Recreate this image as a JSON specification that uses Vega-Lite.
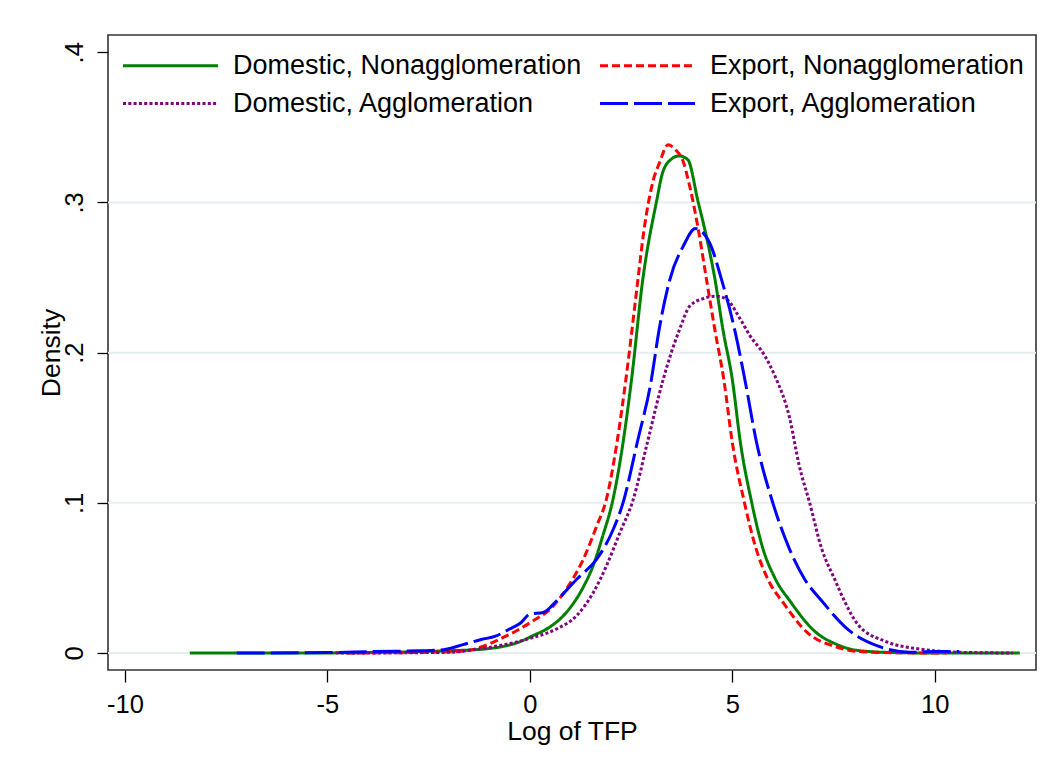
{
  "$schema": "https://vega.github.io/schema/vega-lite/v6.json",
  "width": 928,
  "height": 635,
  "autosize": "none",
  "padding": {"left": 108, "top": 35, "right": 15, "bottom": 101},
  "background": "white",
  "config": {
    "font": "Liberation Sans",
    "view": {"stroke": "#333333", "strokeWidth": 1.6},
    "axis": {"grid": false, "domain": false, "labelFont": "Liberation Sans", "titleFont": "Liberation Sans", "labelColor": "black", "titleColor": "black", "tickColor": "black", "tickWidth": 1.3, "titleFontWeight": "normal", "labelFontSize": 25.5, "titleFontSize": 26.5}
  },
  "datasets": {
    "grid": [{"g": 0}, {"g": 0.1}, {"g": 0.2}, {"g": 0.3}],
    "curves": [
      {"s": "Domestic, Nonagglomeration", "x": -8.4, "d": 0},
      {"s": "Domestic, Nonagglomeration", "x": -6, "d": 0},
      {"s": "Domestic, Nonagglomeration", "x": -4, "d": 0.0003},
      {"s": "Domestic, Nonagglomeration", "x": -3, "d": 0.0008},
      {"s": "Domestic, Nonagglomeration", "x": -2, "d": 0.0015},
      {"s": "Domestic, Nonagglomeration", "x": -1.5, "d": 0.002},
      {"s": "Domestic, Nonagglomeration", "x": -1, "d": 0.003},
      {"s": "Domestic, Nonagglomeration", "x": -0.74, "d": 0.004},
      {"s": "Domestic, Nonagglomeration", "x": -0.3, "d": 0.007},
      {"s": "Domestic, Nonagglomeration", "x": 0.07, "d": 0.0115},
      {"s": "Domestic, Nonagglomeration", "x": 0.49, "d": 0.0173},
      {"s": "Domestic, Nonagglomeration", "x": 0.9, "d": 0.027},
      {"s": "Domestic, Nonagglomeration", "x": 1.32, "d": 0.044},
      {"s": "Domestic, Nonagglomeration", "x": 1.56, "d": 0.058},
      {"s": "Domestic, Nonagglomeration", "x": 1.8, "d": 0.078},
      {"s": "Domestic, Nonagglomeration", "x": 2.05, "d": 0.102},
      {"s": "Domestic, Nonagglomeration", "x": 2.3, "d": 0.14},
      {"s": "Domestic, Nonagglomeration", "x": 2.51, "d": 0.182},
      {"s": "Domestic, Nonagglomeration", "x": 2.79, "d": 0.249},
      {"s": "Domestic, Nonagglomeration", "x": 3.13, "d": 0.301},
      {"s": "Domestic, Nonagglomeration", "x": 3.28, "d": 0.32},
      {"s": "Domestic, Nonagglomeration", "x": 3.5, "d": 0.329},
      {"s": "Domestic, Nonagglomeration", "x": 3.68, "d": 0.331},
      {"s": "Domestic, Nonagglomeration", "x": 3.9, "d": 0.3285},
      {"s": "Domestic, Nonagglomeration", "x": 4.15, "d": 0.301},
      {"s": "Domestic, Nonagglomeration", "x": 4.32, "d": 0.282},
      {"s": "Domestic, Nonagglomeration", "x": 4.57, "d": 0.249},
      {"s": "Domestic, Nonagglomeration", "x": 4.77, "d": 0.215},
      {"s": "Domestic, Nonagglomeration", "x": 5.0, "d": 0.182},
      {"s": "Domestic, Nonagglomeration", "x": 5.2, "d": 0.14},
      {"s": "Domestic, Nonagglomeration", "x": 5.48, "d": 0.1},
      {"s": "Domestic, Nonagglomeration", "x": 5.75, "d": 0.07},
      {"s": "Domestic, Nonagglomeration", "x": 6.05, "d": 0.05},
      {"s": "Domestic, Nonagglomeration", "x": 6.44, "d": 0.034},
      {"s": "Domestic, Nonagglomeration", "x": 7.03, "d": 0.0146},
      {"s": "Domestic, Nonagglomeration", "x": 7.6, "d": 0.0055},
      {"s": "Domestic, Nonagglomeration", "x": 8.1, "d": 0.0017},
      {"s": "Domestic, Nonagglomeration", "x": 9, "d": 0.0003},
      {"s": "Domestic, Nonagglomeration", "x": 10, "d": 0},
      {"s": "Domestic, Nonagglomeration", "x": 12.1, "d": 0},

      {"s": "Export, Nonagglomeration", "x": -4.5, "d": 0},
      {"s": "Export, Nonagglomeration", "x": -3, "d": 0.0003},
      {"s": "Export, Nonagglomeration", "x": -2, "d": 0.0008},
      {"s": "Export, Nonagglomeration", "x": -1.56, "d": 0.0015},
      {"s": "Export, Nonagglomeration", "x": -1.1, "d": 0.005},
      {"s": "Export, Nonagglomeration", "x": -0.74, "d": 0.0093},
      {"s": "Export, Nonagglomeration", "x": -0.33, "d": 0.0148},
      {"s": "Export, Nonagglomeration", "x": 0.08, "d": 0.0215},
      {"s": "Export, Nonagglomeration", "x": 0.49, "d": 0.029},
      {"s": "Export, Nonagglomeration", "x": 0.9, "d": 0.0426},
      {"s": "Export, Nonagglomeration", "x": 1.32, "d": 0.0625},
      {"s": "Export, Nonagglomeration", "x": 1.65, "d": 0.0846},
      {"s": "Export, Nonagglomeration", "x": 1.89, "d": 0.1024},
      {"s": "Export, Nonagglomeration", "x": 2.15, "d": 0.14},
      {"s": "Export, Nonagglomeration", "x": 2.37, "d": 0.182},
      {"s": "Export, Nonagglomeration", "x": 2.67, "d": 0.249},
      {"s": "Export, Nonagglomeration", "x": 2.82, "d": 0.282},
      {"s": "Export, Nonagglomeration", "x": 3.05, "d": 0.315},
      {"s": "Export, Nonagglomeration", "x": 3.21, "d": 0.327},
      {"s": "Export, Nonagglomeration", "x": 3.41, "d": 0.3384},
      {"s": "Export, Nonagglomeration", "x": 3.6, "d": 0.335},
      {"s": "Export, Nonagglomeration", "x": 3.79, "d": 0.327},
      {"s": "Export, Nonagglomeration", "x": 3.91, "d": 0.315},
      {"s": "Export, Nonagglomeration", "x": 4.16, "d": 0.282},
      {"s": "Export, Nonagglomeration", "x": 4.36, "d": 0.249},
      {"s": "Export, Nonagglomeration", "x": 4.57, "d": 0.215},
      {"s": "Export, Nonagglomeration", "x": 4.79, "d": 0.182},
      {"s": "Export, Nonagglomeration", "x": 5.0, "d": 0.14},
      {"s": "Export, Nonagglomeration", "x": 5.3, "d": 0.1},
      {"s": "Export, Nonagglomeration", "x": 5.58, "d": 0.07},
      {"s": "Export, Nonagglomeration", "x": 5.88, "d": 0.049},
      {"s": "Export, Nonagglomeration", "x": 6.27, "d": 0.033},
      {"s": "Export, Nonagglomeration", "x": 6.86, "d": 0.0134},
      {"s": "Export, Nonagglomeration", "x": 7.53, "d": 0.0044},
      {"s": "Export, Nonagglomeration", "x": 8.1, "d": 0.001},
      {"s": "Export, Nonagglomeration", "x": 9, "d": 0.0002},
      {"s": "Export, Nonagglomeration", "x": 10.3, "d": 0},

      {"s": "Domestic, Agglomeration", "x": -4.8, "d": 0},
      {"s": "Domestic, Agglomeration", "x": -3, "d": 0.0002},
      {"s": "Domestic, Agglomeration", "x": -1.98, "d": 0.0005},
      {"s": "Domestic, Agglomeration", "x": -1.2, "d": 0.003},
      {"s": "Domestic, Agglomeration", "x": -0.74, "d": 0.005},
      {"s": "Domestic, Agglomeration", "x": 0.08, "d": 0.0104},
      {"s": "Domestic, Agglomeration", "x": 0.66, "d": 0.016},
      {"s": "Domestic, Agglomeration", "x": 1.15, "d": 0.0248},
      {"s": "Domestic, Agglomeration", "x": 1.56, "d": 0.04},
      {"s": "Domestic, Agglomeration", "x": 1.89, "d": 0.058},
      {"s": "Domestic, Agglomeration", "x": 2.22, "d": 0.08},
      {"s": "Domestic, Agglomeration", "x": 2.55, "d": 0.102},
      {"s": "Domestic, Agglomeration", "x": 2.9, "d": 0.14},
      {"s": "Domestic, Agglomeration", "x": 3.29, "d": 0.182},
      {"s": "Domestic, Agglomeration", "x": 3.69, "d": 0.215},
      {"s": "Domestic, Agglomeration", "x": 3.95, "d": 0.231},
      {"s": "Domestic, Agglomeration", "x": 4.28, "d": 0.236},
      {"s": "Domestic, Agglomeration", "x": 4.6, "d": 0.2376},
      {"s": "Domestic, Agglomeration", "x": 4.86, "d": 0.2355},
      {"s": "Domestic, Agglomeration", "x": 5.19, "d": 0.2226},
      {"s": "Domestic, Agglomeration", "x": 5.43, "d": 0.2115},
      {"s": "Domestic, Agglomeration", "x": 5.8, "d": 0.198},
      {"s": "Domestic, Agglomeration", "x": 6.05, "d": 0.1846},
      {"s": "Domestic, Agglomeration", "x": 6.42, "d": 0.156},
      {"s": "Domestic, Agglomeration", "x": 6.65, "d": 0.125},
      {"s": "Domestic, Agglomeration", "x": 6.91, "d": 0.1},
      {"s": "Domestic, Agglomeration", "x": 7.2, "d": 0.07},
      {"s": "Domestic, Agglomeration", "x": 7.53, "d": 0.049},
      {"s": "Domestic, Agglomeration", "x": 7.78, "d": 0.034},
      {"s": "Domestic, Agglomeration", "x": 8.1, "d": 0.019},
      {"s": "Domestic, Agglomeration", "x": 8.78, "d": 0.0078},
      {"s": "Domestic, Agglomeration", "x": 9.79, "d": 0.0021},
      {"s": "Domestic, Agglomeration", "x": 10.6, "d": 0.0005},
      {"s": "Domestic, Agglomeration", "x": 11.93, "d": 0},

      {"s": "Export, Agglomeration", "x": -7.24, "d": 0},
      {"s": "Export, Agglomeration", "x": -5, "d": 0.0003},
      {"s": "Export, Agglomeration", "x": -3.9, "d": 0.001},
      {"s": "Export, Agglomeration", "x": -2.7, "d": 0.0015},
      {"s": "Export, Agglomeration", "x": -2.2, "d": 0.002},
      {"s": "Export, Agglomeration", "x": -1.65, "d": 0.0056},
      {"s": "Export, Agglomeration", "x": -1.2, "d": 0.009},
      {"s": "Export, Agglomeration", "x": -0.85, "d": 0.0112},
      {"s": "Export, Agglomeration", "x": -0.5, "d": 0.016},
      {"s": "Export, Agglomeration", "x": -0.23, "d": 0.02},
      {"s": "Export, Agglomeration", "x": 0, "d": 0.026},
      {"s": "Export, Agglomeration", "x": 0.33, "d": 0.027},
      {"s": "Export, Agglomeration", "x": 0.66, "d": 0.0348},
      {"s": "Export, Agglomeration", "x": 1.15, "d": 0.049},
      {"s": "Export, Agglomeration", "x": 1.65, "d": 0.0625},
      {"s": "Export, Agglomeration", "x": 2.06, "d": 0.0824},
      {"s": "Export, Agglomeration", "x": 2.3, "d": 0.1},
      {"s": "Export, Agglomeration", "x": 2.65, "d": 0.14},
      {"s": "Export, Agglomeration", "x": 3.0, "d": 0.182},
      {"s": "Export, Agglomeration", "x": 3.19, "d": 0.215},
      {"s": "Export, Agglomeration", "x": 3.46, "d": 0.249},
      {"s": "Export, Agglomeration", "x": 3.79, "d": 0.271},
      {"s": "Export, Agglomeration", "x": 4.09, "d": 0.2826},
      {"s": "Export, Agglomeration", "x": 4.44, "d": 0.273},
      {"s": "Export, Agglomeration", "x": 4.73, "d": 0.249},
      {"s": "Export, Agglomeration", "x": 5.06, "d": 0.215},
      {"s": "Export, Agglomeration", "x": 5.31, "d": 0.182},
      {"s": "Export, Agglomeration", "x": 5.6, "d": 0.14},
      {"s": "Export, Agglomeration", "x": 6.0, "d": 0.1},
      {"s": "Export, Agglomeration", "x": 6.4, "d": 0.07},
      {"s": "Export, Agglomeration", "x": 6.79, "d": 0.049},
      {"s": "Export, Agglomeration", "x": 7.2, "d": 0.035},
      {"s": "Export, Agglomeration", "x": 7.86, "d": 0.0156},
      {"s": "Export, Agglomeration", "x": 8.62, "d": 0.0044},
      {"s": "Export, Agglomeration", "x": 9.37, "d": 0.0005},
      {"s": "Export, Agglomeration", "x": 10, "d": 0.001},
      {"s": "Export, Agglomeration", "x": 10.6, "d": 0.001}
    ]
  },
  "layer": [
    {
      "data": {"name": "grid"},
      "mark": {"type": "rule", "color": "#e6eef1", "strokeWidth": 2},
      "encoding": {
        "y": {"field": "g", "type": "quantitative"}
      }
    },
    {
      "data": {"name": "curves"},
      "mark": {"type": "line", "strokeWidth": 3, "interpolate": "monotone"},
      "encoding": {
        "x": {
          "field": "x", "type": "quantitative",
          "scale": {"domain": [-10.42, 12.5], "nice": false, "zero": false},
          "axis": {"title": "Log of TFP", "values": [-10, -5, 0, 5, 10], "tickSize": 12, "labelPadding": 10, "titlePadding": 1, "labelFlush": false, "labelExpr": "datum.value < 0 ? '-' + abs(datum.value) : '' + datum.value"}
        },
        "y": {
          "field": "d", "type": "quantitative",
          "scale": {"domain": [-0.0113, 0.4115], "nice": false, "zero": false},
          "axis": {"title": "Density", "values": [0, 0.1, 0.2, 0.3, 0.4], "tickSize": 11, "labelAngle": 270, "labelAlign": "center", "labelBaseline": "bottom", "labelPadding": 10, "titlePadding": -3, "labelExpr": "datum.value === 0 ? '0' : replace(format(datum.value, '.1f'), '0.', '.')"}
        },
        "color": {
          "field": "s", "type": "nominal",
          "scale": {
            "domain": ["Domestic, Nonagglomeration", "Domestic, Agglomeration", "Export, Nonagglomeration", "Export, Agglomeration"],
            "range": ["#008000", "#800080", "#ff0000", "#0000ff"]
          },
          "legend": {
            "title": null, "orient": "none", "legendX": 11, "legendY": 17, "columns": 2,
            "symbolType": "M-1,0H9", "symbolSize": 361, "symbolStrokeWidth": 3,
            "labelFontSize": 27, "labelFont": "Liberation Sans", "labelColor": "black", "labelOffset": 87,
            "columnPadding": 12, "rowPadding": 10, "padding": 0, "labelLimit": 600
          }
        },
        "strokeDash": {
          "field": "s", "type": "nominal",
          "scale": {
            "domain": ["Domestic, Nonagglomeration", "Domestic, Agglomeration", "Export, Nonagglomeration", "Export, Agglomeration"],
            "range": [[1, 0], [3, 2.3], [8, 4], [28, 6]]
          },
          "legend": {
            "title": null, "orient": "none", "legendX": 11, "legendY": 17, "columns": 2,
            "symbolType": "M-1,0H9", "symbolSize": 361, "symbolStrokeWidth": 3,
            "labelFontSize": 27, "labelFont": "Liberation Sans", "labelColor": "black", "labelOffset": 87,
            "columnPadding": 12, "rowPadding": 10, "padding": 0, "labelLimit": 600
          }
        }
      }
    }
  ]
}
